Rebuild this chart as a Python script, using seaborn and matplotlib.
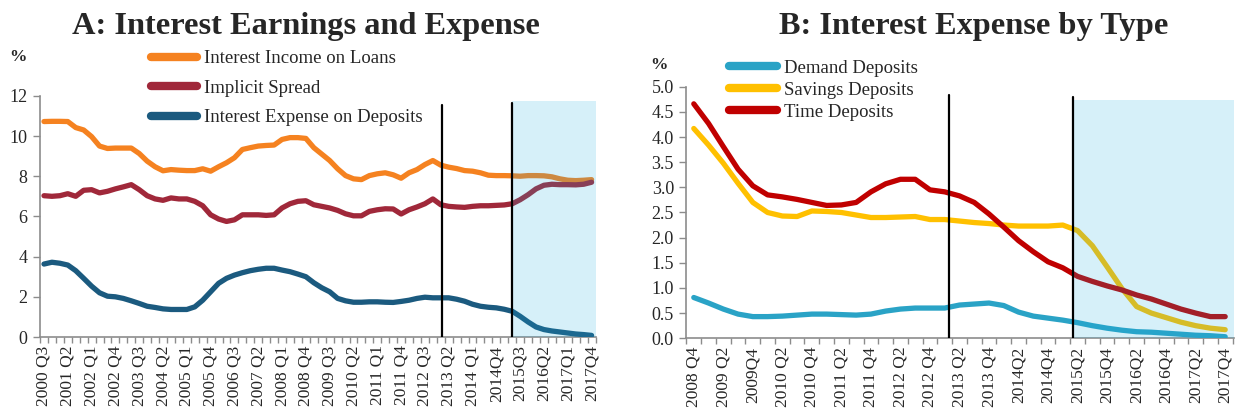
import numpy as np
import pandas as pd
import seaborn as sns
import matplotlib.pyplot as plt
from matplotlib.lines import Line2D

# ---- panel A: quarterly, 2000 Q3 .. 2017 Q4 (70 quarters) ----
labels_a = ["2000 Q3", "2001 Q2", "2002 Q1", "2002 Q4", "2003 Q3", "2004 Q2",
            "2005 Q1", "2005 Q4", "2006 Q3", "2007 Q2", "2008 Q1", "2008 Q4",
            "2009 Q3", "2010 Q2", "2011 Q1", "2011 Q4", "2012 Q3", "2013 Q2",
            "2014 Q1", "2014Q4", "2015Q3", "2016Q2", "2017Q1", "2017Q4"]
loans = [10.72, 10.73, 10.73, 10.72, 10.42, 10.3, 9.97, 9.5, 9.38, 9.4,
         9.4, 9.4, 9.13, 8.75, 8.47, 8.27, 8.33, 8.3, 8.28, 8.28,
         8.37, 8.25, 8.47, 8.67, 8.92, 9.33, 9.42, 9.5, 9.53, 9.55,
         9.83, 9.92, 9.92, 9.88, 9.42, 9.1, 8.78, 8.37, 8.03, 7.87,
         7.83, 8.03, 8.12, 8.17, 8.07, 7.9, 8.17, 8.33, 8.58, 8.78,
         8.55, 8.45, 8.38, 8.28, 8.25, 8.17, 8.05, 8.03, 8.03, 8.02,
         8.0, 8.03, 8.03, 8.02, 7.97, 7.87, 7.8, 7.78, 7.8, 7.83]
spread = [7.03, 7.0, 7.03, 7.13, 7.0, 7.3, 7.33, 7.17, 7.25, 7.37,
          7.47, 7.58, 7.33, 7.03, 6.87, 6.8, 6.92, 6.87, 6.87, 6.75,
          6.53, 6.08, 5.87, 5.75, 5.83, 6.08, 6.08, 6.08, 6.05, 6.08,
          6.42, 6.63, 6.75, 6.78, 6.58, 6.5, 6.42, 6.3, 6.13, 6.03,
          6.03, 6.25, 6.33, 6.38, 6.37, 6.12, 6.33, 6.47, 6.63, 6.87,
          6.58, 6.5, 6.47, 6.45, 6.5, 6.53, 6.53, 6.55, 6.57, 6.63,
          6.83, 7.08, 7.37, 7.55, 7.6, 7.58, 7.58, 7.57, 7.6, 7.7]
deposits = [3.63, 3.72, 3.67, 3.58, 3.3, 2.92, 2.53, 2.2, 2.03, 2.0,
            1.92, 1.8, 1.67, 1.53, 1.47, 1.4, 1.37, 1.37, 1.37, 1.5,
            1.83, 2.25, 2.67, 2.92, 3.08, 3.2, 3.3, 3.37, 3.42, 3.42,
            3.33, 3.25, 3.13, 3.0, 2.7, 2.45, 2.25, 1.92, 1.8, 1.73,
            1.73, 1.75, 1.75, 1.73, 1.72, 1.77, 1.83, 1.92, 1.98, 1.95,
            1.95, 1.95, 1.88, 1.78, 1.63, 1.53, 1.48, 1.45, 1.38, 1.28,
            1.03, 0.75, 0.5, 0.37, 0.3, 0.25, 0.2, 0.15, 0.12, 0.08]
names_a = ["Interest Income on Loans", "Implicit Spread", "Interest Expense on Deposits"]
colors_a = ["#F58220", "#A0283A", "#1B5A7F"]
events_a = [50.15, 58.95]        # vertical marker lines (category position)
event_tops_a = [11.55, 11.64]
shade_top_a = 11.74

# ---- panel B: quarterly, 2008 Q4 .. 2017 Q4 (37 quarters) ----
labels_b = ["2008 Q4", "2009 Q2", "2009Q4", "2010 Q2", "2010 Q4", "2011 Q2",
            "2011 Q4", "2012 Q2", "2012 Q4", "2013 Q2", "2013 Q4", "2014Q2",
            "2014Q4", "2015Q2", "2015Q4", "2016Q2", "2016Q4", "2017Q2", "2017Q4"]
demand = [0.81, 0.70, 0.58, 0.48, 0.43, 0.43, 0.44, 0.46, 0.48, 0.48,
          0.47, 0.46, 0.48, 0.54, 0.58, 0.60, 0.60, 0.60, 0.66, 0.68,
          0.70, 0.65, 0.52, 0.44, 0.40, 0.36, 0.31, 0.25, 0.20, 0.16,
          0.13, 0.12, 0.10, 0.08, 0.06, 0.05, 0.03]
savings = [4.17, 3.84, 3.48, 3.08, 2.70, 2.50, 2.43, 2.42, 2.53, 2.52,
           2.50, 2.45, 2.40, 2.40, 2.41, 2.42, 2.36, 2.36, 2.33, 2.30,
           2.28, 2.25, 2.23, 2.23, 2.23, 2.25, 2.14, 1.84, 1.42, 0.99,
           0.63, 0.50, 0.41, 0.32, 0.25, 0.20, 0.17]
time_dep = [4.66, 4.27, 3.81, 3.36, 3.03, 2.85, 2.81, 2.76, 2.70, 2.64,
            2.65, 2.70, 2.91, 3.07, 3.16, 3.16, 2.95, 2.91, 2.83, 2.70,
            2.47, 2.21, 1.94, 1.72, 1.52, 1.40, 1.23, 1.13, 1.04, 0.96,
            0.86, 0.78, 0.68, 0.58, 0.50, 0.43, 0.43]
names_b = ["Demand Deposits", "Savings Deposits", "Time Deposits"]
colors_b = ["#2AA3C6", "#FFC000", "#C00000"]
events_b = [17.3, 25.7]
event_tops_b = [4.84, 4.80]
shade_top_b = 4.74

shade_color = "#1CACDE"
grey = "#8C8C8C"

sns.set_style("ticks")
plt.rcParams['font.family'] = ['Liberation Serif', 'DejaVu Serif']

fig = plt.figure(figsize=(12.39, 4.13), dpi=100)
axA = fig.add_axes([0.0323, 0.184, 0.449, 0.584])
axB = fig.add_axes([0.554, 0.181, 0.442, 0.609])


def draw_panel(ax, series, names, colors, labels, step, events, tops, shade_top,
               ymax, ystep, yfmt):
    n = len(series[0])
    df = pd.DataFrame({nm: s for nm, s in zip(names, series)})
    df["q"] = np.arange(n)
    long = df.melt(id_vars="q", var_name="series", value_name="pct")
    sns.lineplot(data=long, x="q", y="pct", hue="series", hue_order=names,
                 palette=dict(zip(names, colors)), lw=3.8, ax=ax, legend=False,
                 solid_capstyle="round", zorder=3)
    x0, x1 = -0.35, n - 0.4
    ax.set_xlim(x0, x1)
    ax.set_ylim(0, ymax)
    # shaded region, laid over the lines
    ax.fill_between([events[1], x1], 0, shade_top, color=shade_color,
                    alpha=0.18, lw=0, zorder=5)
    for xv, top in zip(events, tops):
        ax.plot([xv, xv], [0, top], color="black", lw=1.6, zorder=6)

    ax.set_xticks(np.arange(0, n, step))
    ax.set_xticklabels(labels, rotation=90, fontsize=12.5)
    ax.set_xticks(np.arange(n + 1) - 0.5, minor=True)
    ax.tick_params(axis="x", which="major", length=0, pad=6)
    ax.tick_params(axis="x", which="minor", length=4, color=grey, width=1)
    yt = np.arange(0, ymax + ystep / 2, ystep)
    ax.set_yticks(yt)
    ax.set_yticklabels([yfmt.format(v) for v in yt], fontsize=13)
    ax.tick_params(axis="y", length=5, color=grey, width=1, pad=4)
    ax.set_xlabel("")
    ax.set_ylabel("")
    sns.despine(ax=ax)
    for sp in ("left", "bottom"):
        ax.spines[sp].set_color(grey)
        ax.spines[sp].set_linewidth(1.2)
    handles = [Line2D([], [], color=c, lw=6, solid_capstyle="round") for c in colors]
    return handles


hA = draw_panel(axA, [loans, spread, deposits], names_a, colors_a, labels_a, 3,
                events_a, event_tops_a, shade_top_a, 12, 2, "{:.0f}")
hB = draw_panel(axB, [demand, savings, time_dep], names_b, colors_b, labels_b, 2,
                events_b, event_tops_b, shade_top_b, 5.0, 0.5, "{:.1f}")

fig.legend(hA, names_a, loc="upper left", bbox_to_anchor=(0.1219, 0.8786),
           frameon=False, fontsize=13.5, handlelength=2.45, handletextpad=0.38,
           labelspacing=0.66, borderpad=0, borderaxespad=0)
fig.legend(hB, names_b, loc="upper left", bbox_to_anchor=(0.5884, 0.855),
           frameon=False, fontsize=13.5, handlelength=2.55, handletextpad=0.38,
           labelspacing=0.25, borderpad=0, borderaxespad=0)

fig.text(306 / 1239, 1 - 34 / 413, "A: Interest Earnings and Expense",
         ha="center", va="baseline", fontsize=23.3, fontweight="bold")
fig.text(974 / 1239, 1 - 34 / 413, "B: Interest Expense by Type",
         ha="center", va="baseline", fontsize=23.3, fontweight="bold")
fig.text(18 / 1239, 1 - 57 / 413, "%", ha="center", va="center",
         fontsize=12.5, fontweight="bold")
fig.text(659 / 1239, 1 - 65 / 413, "%", ha="center", va="center",
         fontsize=12.5, fontweight="bold")

fig.savefig("out.png", dpi=100)
